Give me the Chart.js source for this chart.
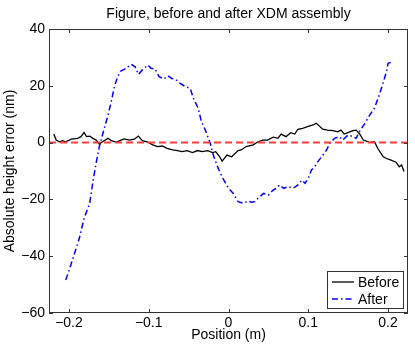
<!DOCTYPE html>
<html>
<head>
<meta charset="utf-8">
<script src="https://cdn.jsdelivr.net/npm/chart.js@4.4.1/dist/chart.umd.min.js"></script>
<style>
    body { margin: 0; background: #fff; }
    #wrap { width: 415px; height: 349px; }
</style>
</head>
<body>
<div id="wrap"><canvas id="chart" width="415" height="349"></canvas></div>
<script>
const titleText = 'Figure, before and after XDM assembly';
const xTicks = [-0.2, -0.1, 0, 0.1, 0.2];
const yTicks = [-60, -40, -20, 0, 20, 40];
const zeroX = [-0.225, 0.225];
const zeroY = [0, 0];

const beforeX = [-0.219, -0.216, -0.212, -0.208, -0.204, -0.197, -0.189, -0.185, -0.181, -0.178, -0.174, -0.170, -0.166, -0.162, -0.158,
    -0.151, -0.147, -0.141, -0.137, -0.131, -0.124, -0.118, -0.113, -0.108, -0.102, -0.095, -0.089, -0.083, -0.077, -0.070,
    -0.064, -0.058, -0.052, -0.045, -0.039, -0.033, -0.026, -0.020, -0.016, -0.011, -0.008, -0.002, 0.004, 0.012, 0.016,
    0.022, 0.031, 0.037, 0.043, 0.049, 0.056, 0.062, 0.066, 0.072, 0.078, 0.083, 0.087, 0.093, 0.099, 0.106,
    0.110, 0.114, 0.118, 0.124, 0.131, 0.137, 0.141, 0.145, 0.152, 0.156, 0.160, 0.164, 0.169, 0.177, 0.183,
    0.187, 0.194, 0.198, 0.203, 0.210, 0.214, 0.217, 0.220];
const beforeY = [3.0, 0.9, 0.3, 0.7, 0.3, 1.2, 1.5, 2.1, 3.6, 2.1, 2.3, 1.5, 0.9, -0.5, 0.3,
    1.5, 0.7, 0.2, 0.6, 1.3, 0.9, 1.2, 2.3, 0.7, 0.3, -0.8, -1.4, -1.2, -2.0, -2.6,
    -2.8, -3.2, -2.8, -3.5, -2.8, -3.2, -2.8, -3.5, -3.2, -5.0, -6.5, -4.4, -5.0, -2.8, -2.6,
    -1.4, -0.8, 0.3, 0.9, 0.9, 1.9, 1.5, 3.0, 2.1, 3.5, 3.0, 4.7, 5.0, 5.6, 6.2,
    6.8, 5.8, 4.7, 4.4, 4.2, 3.8, 4.4, 3.0, 3.8, 4.2, 4.4, 3.2, 0.9, 0.1, 0.3,
    -2.0, -5.0, -5.6, -6.1, -6.9, -8.5, -7.9, -10.2];

const afterX = [-0.204, -0.199, -0.193, -0.187, -0.181, -0.174, -0.170, -0.166, -0.162, -0.158, -0.151, -0.147, -0.143, -0.139, -0.135,
    -0.128, -0.122, -0.117, -0.113, -0.108, -0.101, -0.097, -0.092, -0.087, -0.081, -0.076, -0.071, -0.067, -0.061, -0.054,
    -0.048, -0.044, -0.038, -0.034, -0.029, -0.023, -0.019, -0.013, -0.007, 0.000, 0.006, 0.012, 0.019, 0.024, 0.029,
    0.033, 0.037, 0.044, 0.050, 0.056, 0.060, 0.064, 0.069, 0.075, 0.081, 0.087, 0.092, 0.096, 0.100, 0.104,
    0.108, 0.112, 0.117, 0.123, 0.127, 0.133, 0.139, 0.143, 0.150, 0.156, 0.160, 0.164, 0.171, 0.177, 0.183,
    0.189, 0.193, 0.198, 0.200, 0.204];
const afterY = [-48.4, -44.3, -39.0, -33.7, -26.7, -21.4, -13.8, -7.3, -1.5, 2.7, 9.7, 14.4, 19.7, 23.2, 25.2,
    26.2, 27.6, 26.7, 24.0, 25.6, 27.3, 26.2, 25.9, 23.2, 22.4, 23.5, 22.6, 22.4, 20.9, 19.7,
    19.1, 15.6, 12.1, 7.4, 4.4, -0.2, -4.4, -9.0, -12.6, -16.1, -17.9, -20.8, -21.4, -20.6, -21.0,
    -20.8, -19.6, -17.9, -18.5, -16.7, -16.1, -14.9, -16.1, -15.5, -16.1, -14.9, -13.2, -14.3, -12.6, -9.6,
    -8.5, -6.7, -4.9, -2.6, -0.2, 1.5, 2.1, 0.9, 2.7, 2.1, 1.5, 3.8, 6.8, 9.7, 12.1,
    16.8, 20.3, 25.0, 27.9, 28.3];

const FONT = "'Liberation Sans', Arial, Helvetica, sans-serif";

function pairs(xs, ys) {
    return xs.map((x, i) => ({ x: x, y: ys[i] }));
}

function fmt(v) {
    return v < 0 ? '\u2212' + Math.abs(v) : String(v);
}

// box, inward ticks, title over the axes and legend, drawn the way MATLAB does it
const matlabAxes = {
    id: 'matlabAxes',
    afterDraw(chart) {
        const ctx = chart.ctx;
        const a = chart.chartArea;
        const xs = chart.scales.x, ys = chart.scales.y;
        ctx.save();
        ctx.strokeStyle = '#333';
        ctx.lineWidth = 1;
        ctx.strokeRect(Math.round(a.left) + 0.5, Math.round(a.top) + 0.5,
            Math.round(a.right - a.left) - 1, Math.round(a.bottom - a.top) - 1);
        ctx.beginPath();
        const tl = 4;
        xTicks.forEach(v => {
            const px = Math.round(xs.getPixelForValue(v)) + 0.5;
            ctx.moveTo(px, a.bottom); ctx.lineTo(px, a.bottom - tl);
            ctx.moveTo(px, a.top); ctx.lineTo(px, a.top + tl);
        });
        yTicks.forEach(v => {
            const py = Math.round(ys.getPixelForValue(v)) + 0.5;
            ctx.moveTo(a.left, py); ctx.lineTo(a.left + tl, py);
            ctx.moveTo(a.right, py); ctx.lineTo(a.right - tl, py);
        });
        ctx.stroke();

        ctx.font = '14px ' + FONT;
        ctx.fillStyle = '#000';
        ctx.textAlign = 'center';
        ctx.textBaseline = 'middle';
        ctx.fillText(titleText, (a.left + a.right) / 2, a.top - 15);

        // legend box in the lower right corner
        const items = chart.data.datasets.filter(d => d.label);
        const bx = a.right - 81, by = a.bottom - 42, bw = 76, bh = 37;
        ctx.fillStyle = '#fff';
        ctx.fillRect(bx, by, bw, bh);
        ctx.strokeStyle = '#333';
        ctx.strokeRect(bx + 0.5, by + 0.5, bw, bh);
        ctx.textAlign = 'left';
        items.forEach((d, i) => {
            const cy = by + 11 + i * 17;
            ctx.beginPath();
            ctx.strokeStyle = d.borderColor;
            ctx.lineWidth = d.borderWidth;
            ctx.setLineDash(d.borderDash || []);
            ctx.moveTo(bx + 5, cy); ctx.lineTo(bx + 27, cy);
            ctx.stroke();
            ctx.setLineDash([]);
            ctx.fillStyle = '#000';
            ctx.fillText(d.label, bx + 31, cy + 1);
        });
        ctx.restore();
    }
};

new Chart(document.getElementById('chart'), {
    type: 'line',
    data: {
        datasets: [
            {
                label: '',
                data: pairs(zeroX, zeroY),
                borderColor: '#ff3b3b',
                borderWidth: 2,
                borderDash: [7, 4],
                pointRadius: 0,
                order: 0
            },
            {
                label: 'Before',
                data: pairs(beforeX, beforeY),
                borderColor: '#000',
                borderWidth: 1.3,
                pointRadius: 0,
                order: 2
            },
            {
                label: 'After',
                data: pairs(afterX, afterY),
                borderColor: '#0000ff',
                borderWidth: 1.5,
                borderDash: [6, 3, 1.5, 3],
                pointRadius: 0,
                order: 1
            }
        ]
    },
    options: {
        responsive: false,
        animation: false,
        layout: { padding: { left: 0, right: 7, top: 29, bottom: 0 } },
        plugins: {
            legend: { display: false },
            tooltip: { enabled: false },
            title: { display: false }
        },
        scales: {
            x: {
                type: 'linear',
                min: -0.225,
                max: 0.225,
                afterBuildTicks: s => { s.ticks = xTicks.map(v => ({ value: v })); },
                afterFit: s => { s.height = 36; },
                grid: { display: false, drawTicks: false },
                border: { display: false },
                ticks: {
                    color: '#000',
                    padding: 2,
                    maxRotation: 0,
                    font: { family: FONT, size: 14 },
                    callback: v => fmt(v)
                },
                title: {
                    display: true,
                    text: 'Position (m)',
                    color: '#000',
                    font: { family: FONT, size: 14 },
                    padding: { top: 0, bottom: 5 }
                }
            },
            y: {
                type: 'linear',
                min: -60,
                max: 40,
                afterBuildTicks: s => { s.ticks = yTicks.map(v => ({ value: v })); },
                afterFit: s => { s.width = 49; },
                grid: { display: false, drawTicks: false },
                border: { display: false },
                ticks: {
                    color: '#000',
                    padding: 4,
                    font: { family: FONT, size: 14 },
                    callback: v => fmt(v)
                },
                title: {
                    display: true,
                    text: 'Absolute height error (nm)',
                    color: '#000',
                    font: { family: FONT, size: 14 },
                    padding: { top: 2, bottom: 0 }
                }
            }
        }
    },
    plugins: [matlabAxes]
});
</script>
</body>
</html>
